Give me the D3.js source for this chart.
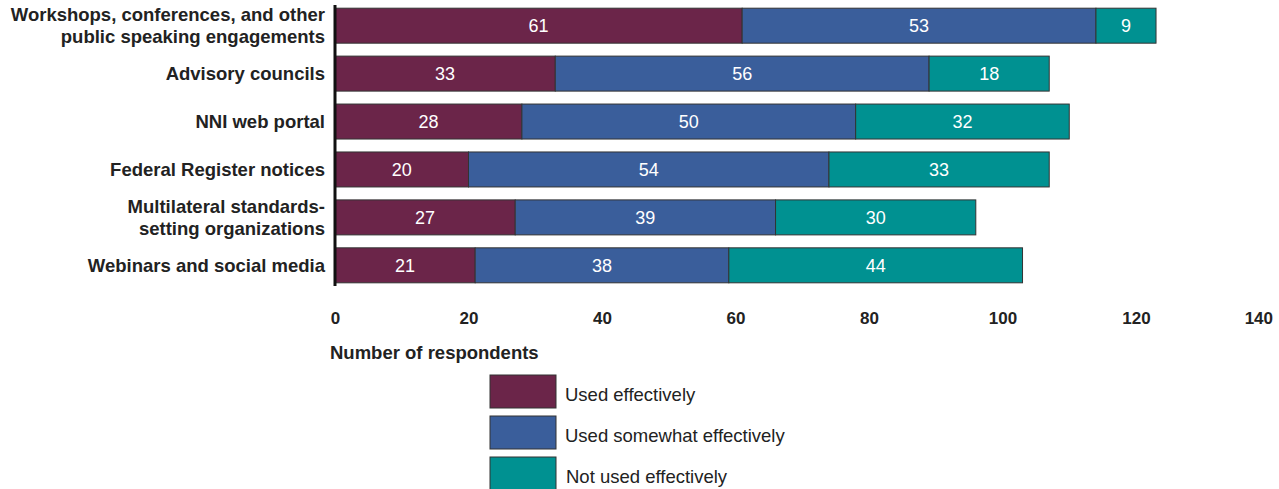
<!DOCTYPE html>
<html><head><meta charset="utf-8">
<script src="https://cdn.jsdelivr.net/npm/d3@7"></script>
<style>body{margin:0;background:#fff;font-family:"Liberation Sans",Arial,sans-serif;}</style>
</head><body><svg id="c" width="1279" height="489"></svg>
<script>
const categories = [
  ["Workshops, conferences, and other", "public speaking engagements"],
  ["Advisory councils"],
  ["NNI web portal"],
  ["Federal Register notices"],
  ["Multilateral standards-", "setting organizations"],
  ["Webinars and social media"]
];
const usedEffectively = [61, 33, 28, 20, 27, 21];
const usedSomewhat = [53, 56, 50, 54, 39, 38];
const notUsed = [9, 18, 32, 33, 30, 44];
const seriesNames = ["Used effectively", "Used somewhat effectively", "Not used effectively"];
const tickValues = [0, 20, 40, 60, 80, 100, 120, 140];
const axisTitle = "Number of respondents";
const colors = ["#6b2549", "#3a5e9b", "#009191"];

const svg = d3.select("#c");
const x = d3.scaleLinear().domain([0, 140]).range([335, 1269.5]);
const y = d3.scaleBand().domain(d3.range(categories.length)).range([1, 290]).paddingInner(0.27).paddingOuter(0.15);

const rows = categories.map((c, i) => ({ i, vals: [usedEffectively[i], usedSomewhat[i], notUsed[i]] }));
const stacked = d3.stack().keys([0, 1, 2]).value((d, k) => d.vals[k])(rows);

stacked.forEach((layer, k) => {
  const g = svg.append("g");
  g.selectAll("rect").data(layer).join("rect")
    .attr("x", d => x(d[0])).attr("width", d => x(d[1]) - x(d[0]))
    .attr("y", d => y(d.data.i)).attr("height", y.bandwidth())
    .attr("fill", colors[k]).attr("stroke", "#333").attr("stroke-width", 1);
  g.selectAll("text").data(layer).join("text")
    .attr("x", d => (x(d[0]) + x(d[1])) / 2)
    .attr("y", d => y(d.data.i) + y.bandwidth() / 2)
    .attr("dy", "0.36em").attr("text-anchor", "middle")
    .attr("fill", "#fff").attr("font-size", 18)
    .text(d => d.data.vals[k]);
});

// axis line
svg.append("line").attr("x1", 335).attr("x2", 335).attr("y1", 5).attr("y2", 286)
  .attr("stroke", "#111").attr("stroke-width", 3);

// category labels
categories.forEach((lines, i) => {
  const cy = y(i) + y.bandwidth() / 2;
  const t = svg.append("text").attr("text-anchor", "end").attr("font-weight", "bold")
    .attr("font-size", 18.5).attr("fill", "#222");
  lines.forEach((l, j) => {
    t.append("tspan").attr("x", 325)
      .attr("y", cy + (j - (lines.length - 1) / 2) * 22).attr("dy", "0.36em").text(l);
  });
});

// x axis ticks
const ax = svg.append("g").attr("transform", "translate(0,312)")
  .call(d3.axisBottom(x).tickValues(tickValues).tickSize(0).tickPadding(0));
ax.select(".domain").remove();
ax.selectAll("text").attr("font-size", 17).attr("font-weight", "bold")
  .attr("font-family", "Liberation Sans, Arial, sans-serif").attr("fill", "#222").attr("dy", "0.36em").attr("y", 6);
// keep last label inside the picture
ax.selectAll(".tick").each(function () {
  const t = d3.select(this).select("text");
  const bb = this.getBBox();
  const m = this.transform.baseVal.consolidate().matrix;
  const right = m.e + bb.x + bb.width;
  if (right > 1273) t.attr("x", 1273 - right);
});

svg.append("text").attr("x", 330).attr("y", 352).attr("dy", "0.36em")
  .attr("font-size", 18.5).attr("font-weight", "bold").attr("fill", "#222").text(axisTitle);

// legend
const lg = svg.append("g");
seriesNames.forEach((n, k) => {
  const yy = 375 + k * 41;
  lg.append("rect").attr("x", 490).attr("y", yy).attr("width", 66).attr("height", 33)
    .attr("fill", colors[k]).attr("stroke", "#333").attr("stroke-width", 1);
  lg.append("text").attr("x", k === 2 ? 566 : 565).attr("y", yy + 19).attr("dy", "0.36em")
    .attr("font-size", 18.5).attr("fill", "#222").text(n);
});
</script></body></html>
